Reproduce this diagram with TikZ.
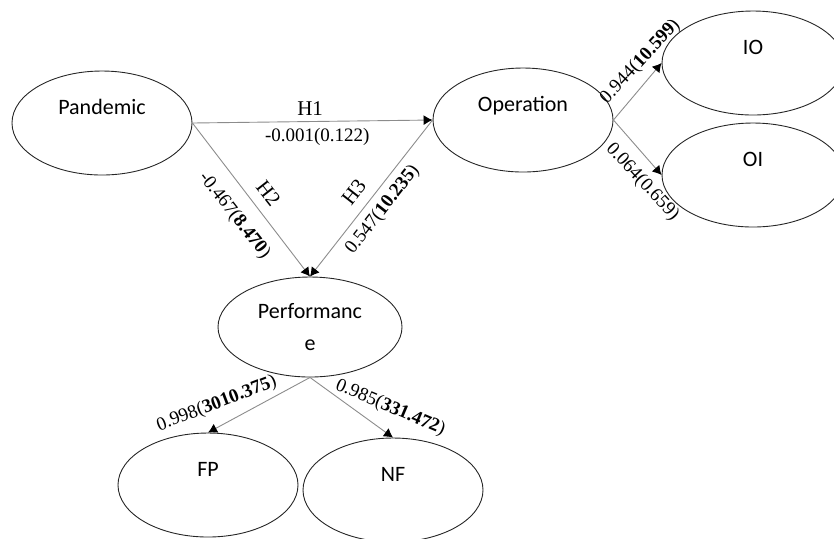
\documentclass[tikz,border=0pt]{standalone}
\usepackage{fontspec}
\setmainfont{Liberation Serif}
\newfontfamily\carlito{Carlito}
\usepackage{tikz}
\usetikzlibrary{calc,shapes.geometric,arrows.meta}

\begin{document}
\begin{tikzpicture}[x=0.5pt,y=0.5pt,
    latent/.style={draw=black!85, ellipse, line width=0.45pt, inner sep=0pt,
      minimum width=90pt, minimum height=52pt, align=center,
      font=\carlito\fontsize{11}{16}\selectfont},
    link/.style={draw=black!45, line width=0.45pt, -{Latex[length=4.5pt,width=5pt,color=black]}},
    coef/.style={font=\fontsize{9.5}{11}\selectfont, inner sep=1pt},
    hyp/.style={font=\fontsize{10.5}{12}\selectfont, inner sep=1pt}]

    \useasboundingbox (0,0) rectangle (834,-538);

    \node[latent] (pan) at (102,-123) {Pandemic\\~};
    \node[latent] (ope) at (523,-120) {Operation\\~};
    \node[latent, minimum width=91pt] (io) at (753,-63) {IO\\~};
    \node[latent, minimum width=91pt] (oi) at (753,-175) {OI\\~};
    \node[latent, minimum width=92pt, minimum height=50pt] (perf) at (310,-327) {Performanc\\e};
    \node[latent] (fp) at (208,-485) {FP\\~};
    \node[latent] (nf) at (393,-490) {NF\\~};

    \draw[link] (pan.east) -- (ope.west);
    \draw[link] (pan.east) -- (perf.north);
    \draw[link] (ope.west) -- (perf.north);
    \draw[link] (ope.east) -- (io.west);
    \draw[link] (ope.east) -- (oi.west);
    \draw[link] (perf.south) -- (fp.north);
    \draw[link] (perf.south) -- (nf.north);

    \node[hyp, above=2pt] (h1) at ($(pan.east)!0.49!(ope.west)$) {H1};
    \node[coef, below=2pt] (c1) at ($(pan.east)!0.52!(ope.west)$) {-0.001(0.122)};

    \node[hyp, rotate=-52, above=4pt] (h2) at ($(pan.east)!0.53!(perf.north)$) {H2};
    \node[coef, rotate=-52, below=6pt] (c2) at ($(pan.east)!0.51!(perf.north)$) {-0.467(\textbf{8.470})};

    \node[hyp, rotate=52, above=4pt] (h3) at ($(ope.west)!0.53!(perf.north)$) {H3};
    \node[coef, rotate=52, below=2.5pt] (c3) at ($(ope.west)!0.51!(perf.north)$) {0.547(\textbf{10.235})};

    \node[coef, rotate=47, above=3pt] (c4) at ($(ope.east)!0.82!(io.west)$) {0.944(\textbf{10.599})};
    \node[coef, rotate=-47, below=4pt] (c5) at ($(ope.east)!0.89!(oi.west)$) {0.064(0.659)};

    \node[coef, rotate=21, above=5pt] (c6) at ($(perf.south)!0.84!(fp.north)$) {0.998(\textbf{3010.375})};
    \node[coef, rotate=-23, above=6pt] (c7) at ($(perf.south)!0.86!(nf.north)$) {0.985(\textbf{331.472})};
\end{tikzpicture}
\end{document}
